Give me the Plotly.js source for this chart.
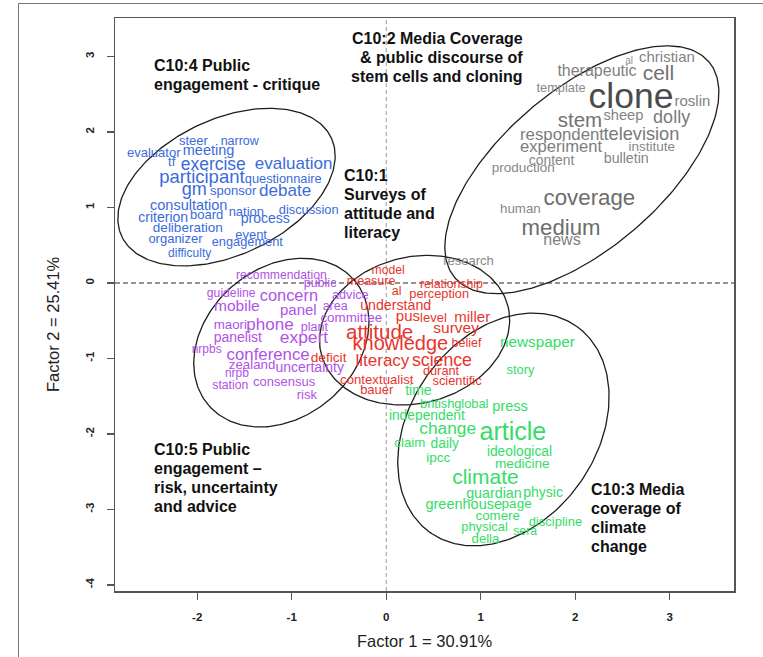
<!DOCTYPE html>
<html>
<head>
<meta charset="utf-8">
<script src="https://cdn.plot.ly/plotly-3.0.1.min.js"></script>
<style>
  html, body { margin: 0; padding: 0; background: #fff; }
  #chart { width: 763px; height: 657px; }
</style>
</head>
<body>
<div id="chart"></div>
<script>
// ---- Word scores on the two factors (x = Factor 1, y = Factor 2) and word weights ----

// C10:4 Public engagement - critique
const wordsC4  = ['steer','narrow','evaluator','meeting','tf','exercise','evaluation','participant','questionnaire','gm','sponsor','debate','consultation','criterion','board','nation','process','discussion','deliberation','organizer','event','engagement','difficulty'];
const f1C4     = [-2.04,-1.55,-2.46,-1.88,-2.27,-1.83,-0.98,-1.95,-1.09,-2.03,-1.62,-1.07,-2.09,-2.36,-1.90,-1.48,-1.28,-0.82,-2.10,-2.23,-1.43,-1.47,-2.08];
const f2C4     = [1.87,1.87,1.71,1.74,1.59,1.56,1.57,1.39,1.36,1.22,1.21,1.21,1.02,0.86,0.89,0.93,0.84,0.95,0.72,0.57,0.63,0.53,0.39];
const wC4      = [13,12.5,13,14.5,13,17.5,17,18.5,12.8,18,13,17,14.5,14,13,13,14,12.8,13.5,13,13,12.8,12];

// C10:2 Media coverage & public discourse of stem cells and cloning
const wordsC2  = ['christian','al','therapeutic','cell','template','clone','roslin','sheep','dolly','stem','respondent','television','experiment','institute','content','bulletin','production','coverage','human','medium','news','research'];
const f1C2     = [2.97,2.57,2.23,2.88,1.85,2.59,3.24,2.51,3.02,2.05,1.86,2.70,1.85,2.81,1.75,2.54,1.45,2.15,1.42,1.85,1.86,0.87];
const f2C2     = [2.98,2.94,2.79,2.76,2.57,2.43,2.39,2.21,2.18,2.14,1.95,1.95,1.79,1.79,1.61,1.63,1.51,1.11,0.97,0.71,0.56,0.28];
const wC2      = [15,10,16,21,12.8,35.5,15,14.7,18,20.5,16.8,18.2,16.6,13.5,13.9,14.2,13.5,22.3,13.3,22.2,16,13];

// C10:1 Surveys of attitude and literacy
const wordsC1  = ['model','measure','relationship','al','perception','understand','pus','level','miller','survey','attitude','knowledge','belief','literacy','science','deficit','durant','contextualist','scientific','bauer'];
const f1C1     = [0.02,-0.16,0.69,0.11,0.56,0.10,0.23,0.50,0.91,0.74,-0.07,0.15,0.85,-0.04,0.59,-0.61,0.58,-0.10,0.75,-0.10];
const f2C1     = [0.16,0.02,-0.02,-0.12,-0.16,-0.31,-0.45,-0.48,-0.47,-0.61,-0.67,-0.82,-0.80,-1.04,-1.04,-1.00,-1.18,-1.30,-1.31,-1.43];
const wC1      = [12.2,12.5,12.3,12.5,12.8,14.2,15,13,15,15.5,20.5,20,12.5,17,17.7,13.7,12.8,13.2,12.8,13];

// C10:5 Public engagement - risk, uncertainty and advice
const wordsC5  = ['recommendation','public','guideline','concern','advice','mobile','panel','area','committee','maori','phone','plant','panelist','expert','nrpbs','conference','zealand','uncertainty','nrpb','station','consensus','risk'];
const f1C5     = [-1.11,-0.70,-1.64,-1.03,-0.38,-1.58,-0.93,-0.54,-0.37,-1.65,-1.23,-0.76,-1.57,-0.87,-1.90,-1.25,-1.42,-0.81,-1.58,-1.65,-1.08,-0.84];
const f2C5     = [0.09,-0.01,-0.15,-0.19,-0.17,-0.32,-0.38,-0.32,-0.47,-0.56,-0.56,-0.60,-0.73,-0.74,-0.89,-0.96,-1.10,-1.13,-1.21,-1.37,-1.32,-1.49];
const wC5      = [12.2,12.5,12.2,16.4,12.7,15.5,15,12.5,13.4,13.3,17,12.5,14,17.4,12,16.8,13.3,14,12,12.2,13,13];

// C10:3 Media coverage of climate change
const wordsC3  = ['newspaper','story','time','british','global','press','independent','change','article','claim','daily','ideological','ipcc','medicine','climate','guardian','physic','greenhouse','page','comere','discipline','physical','sera','della'];
const f1C3     = [1.60,1.42,0.34,0.54,0.90,1.31,0.43,0.65,1.34,0.25,0.62,1.41,0.55,1.44,1.05,1.14,1.66,0.82,1.38,1.18,1.79,1.04,1.47,1.05];
const f2C3     = [-0.80,-1.16,-1.44,-1.61,-1.61,-1.65,-1.77,-1.94,-2.00,-2.13,-2.14,-2.24,-2.32,-2.40,-2.59,-2.80,-2.79,-2.94,-2.93,-3.10,-3.18,-3.24,-3.30,-3.40];
const wC3      = [15.3,12.9,14,13,12.8,14.6,13.8,17.3,25,13.3,13.8,13.8,13.5,13.7,21,14.3,14,14.5,13.5,13.3,13,12.9,12.3,13.1];

// Cluster ellipses: centre (factor units), semi-axes (factor-1 units, on screen) and tilt in degrees
const ellCx    = [-1.69, 2.07, 0.30, -1.11, 1.24];
const ellCy    = [1.27, 1.50, -0.625, -0.79, -1.94];
const ellA     = [1.225, 1.764, 1.02, 1.016, 1.338];
const ellB     = [0.719, 0.842, 0.774, 0.79, 0.988];
const ellTilt  = [25.2, 40.4, 14.6, 40.6, 54.5];

// Cluster captions (one entry per line)
const capC4 = ['C10:4 Public', 'engagement - critique'];
const capC2 = ['C10:2 Media Coverage', '& public discourse of', 'stem cells and cloning'];
const capC1 = ['C10:1', 'Surveys of', 'attitude and', 'literacy'];
const capC5 = ['C10:5 Public', 'engagement \u2013', 'risk, uncertainty', 'and advice'];
const capC3 = ['C10:3 Media', 'coverage of', 'climate', 'change'];

const xTicks = [-2, -1, 0, 1, 2, 3];
const yTicks = [-4, -3, -2, -1, 0, 1, 2, 3];
const xTitle = 'Factor 1 = 30.91%';
const yTitle = 'Factor 2 = 25.41%';

// ---- Layout geometry ----
const W = 763, H = 657;
const M = { l: 115, r: 29, t: 18, b: 66 };
const xRange = [-2.87, 3.68];
const yRange = [-4.08, 3.51];
const plotW = W - M.l - M.r, plotH = H - M.t - M.b;
const pxX = plotW / (xRange[1] - xRange[0]);
const pxY = plotH / (yRange[1] - yRange[0]);
const FONT = 'Liberation Sans, Arial, Helvetica, sans-serif';

const BLUE = '#3a6bdb', RED = '#e8352e', PURPLE = '#b152e6', GREEN = '#35dc68';

function grayFor(w) {
  // heavier words are drawn darker
  const t = Math.min(1, Math.max(0, (w - 10) / 24));
  const v = Math.round(145 - t * 70);
  return 'rgb(' + v + ',' + v + ',' + v + ')';
}

function wordTrace(words, xs, ys, ws, color) {
  return {
    type: 'scatter', mode: 'text',
    x: xs, y: ys, text: words,
    textposition: 'middle center',
    textfont: { family: FONT, size: ws, color: Array.isArray(color) ? color : ws.map(() => color) },
    hoverinfo: 'text', showlegend: false, cliponaxis: false
  };
}

function ellipseTrace(i) {
  const xs = [], ys = [];
  const th = ellTilt[i] * Math.PI / 180;
  const n = 240;
  for (let k = 0; k <= n; k++) {
    const t = 2 * Math.PI * k / n;
    const u = ellA[i] * Math.cos(t), v = ellB[i] * Math.sin(t);
    const dx = u * Math.cos(th) - v * Math.sin(th);
    const dy = u * Math.sin(th) + v * Math.cos(th);
    xs.push(ellCx[i] + dx);
    ys.push(ellCy[i] + dy * pxX / pxY);
  }
  return {
    type: 'scatter', mode: 'lines', x: xs, y: ys,
    line: { color: '#1e1e1e', width: 1.3 },
    hoverinfo: 'skip', showlegend: false
  };
}

const traces = [];
for (let i = 0; i < ellCx.length; i++) traces.push(ellipseTrace(i));
traces.push(wordTrace(wordsC4, f1C4, f2C4, wC4, BLUE));
traces.push(wordTrace(wordsC2, f1C2, f2C2, wC2, wC2.map(grayFor)));
traces.push(wordTrace(wordsC5, f1C5, f2C5, wC5, PURPLE));
traces.push(wordTrace(wordsC1, f1C1, f2C1, wC1, RED));
traces.push(wordTrace(wordsC3, f1C3, f2C3, wC3, GREEN));

// Caption blocks: anchor in factor units, lines stacked downwards
const LINE_H = 19.2;
function caption(lines, x, y, anchor) {
  return lines.map((s, i) => ({
    x: x, y: y, xref: 'x', yref: 'y',
    text: s, showarrow: false,
    xanchor: anchor, yanchor: 'middle',
    yshift: -i * LINE_H,
    font: { family: FONT, size: 16, color: '#111', weight: 'bold' }
  }));
}

const annotations = [].concat(
  caption(capC4, -2.48, 2.88, 'left'),
  caption(capC2, 1.47, 3.24, 'right'),
  caption(capC1, -0.47, 1.43, 'left'),
  caption(capC5, -2.48, -2.20, 'left'),
  caption(capC3, 2.15, -2.73, 'left'),
  [
    { xref: 'paper', yref: 'paper', x: 0.5, y: (H - M.b - 641) / plotH, text: xTitle,
      showarrow: false, xanchor: 'center', yanchor: 'middle',
      font: { family: FONT, size: 16.5, color: '#222' } },
    { xref: 'paper', yref: 'paper', x: (53 - M.l) / plotW, y: (H - M.b - 324) / plotH, text: yTitle,
      showarrow: false, xanchor: 'center', yanchor: 'middle', textangle: -90,
      font: { family: FONT, size: 16.5, color: '#222' } }
  ]
);

const axisCommon = {
  showgrid: false, zeroline: false,
  showline: true, mirror: true, linecolor: '#555', linewidth: 1.5,
  ticks: 'outside', ticklen: 7, tickcolor: '#555', tickwidth: 1.2,
  tickfont: { family: FONT, size: 11.5, color: '#222', weight: 'bold' },
  ticklabelstandoff: 8,
  fixedrange: true
};

const layout = {
  width: W, height: H,
  margin: M,
  paper_bgcolor: '#fff', plot_bgcolor: '#fff',
  showlegend: false,
  xaxis: Object.assign({}, axisCommon, { range: xRange, tickmode: 'array', tickvals: xTicks, ticktext: xTicks.map(String) }),
  yaxis: Object.assign({}, axisCommon, { range: yRange, tickmode: 'array', tickvals: yTicks, ticktext: yTicks.map(String), tickangle: -90 }),
  shapes: [
    { type: 'line', xref: 'x', yref: 'paper', x0: 0, x1: 0, y0: 0, y1: 1,
      line: { color: '#999', width: 1, dash: '4px,3px' }, layer: 'below' },
    { type: 'line', xref: 'paper', yref: 'y', x0: 0, x1: 1, y0: 0, y1: 0,
      line: { color: '#707070', width: 1.6, dash: '5px,3px' }, layer: 'below' },
    { type: 'rect', xref: 'paper', yref: 'paper',
      x0: (18.5 - M.l) / plotW, x1: (780 - M.l) / plotW,
      y0: (H - M.b - 680) / plotH, y1: (H - M.b - 3.5) / plotH,
      line: { color: '#777', width: 1 }, fillcolor: 'rgba(0,0,0,0)' }
  ],
  annotations: annotations
};

Plotly.newPlot('chart', traces, layout, { displayModeBar: false, staticPlot: true });
</script>
</body>
</html>
